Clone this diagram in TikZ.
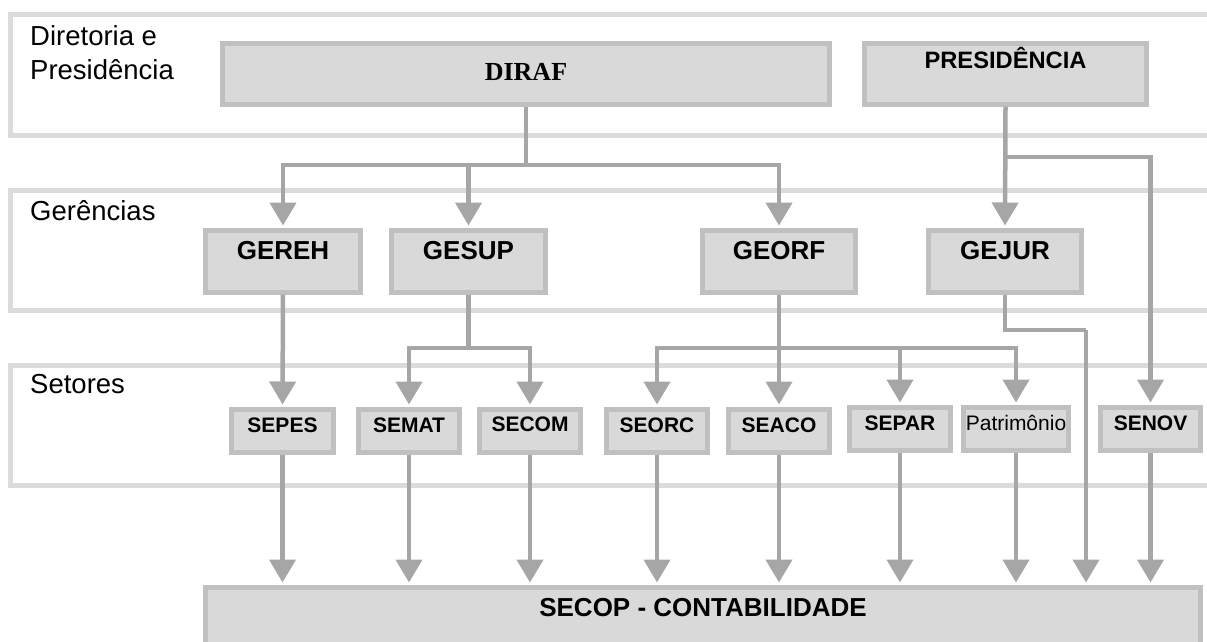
\documentclass[tikz,border=0pt]{standalone}
\usepackage{fontspec}
\setmainfont{Liberation Sans}
\newfontfamily\timesfont{Liberation Serif}
\usetikzlibrary{arrows.meta}
\definecolor{boxfill}{HTML}{D9D9D9}
\definecolor{boxline}{HTML}{C0C0C0}
\definecolor{linkgray}{HTML}{A6A6A6}
\definecolor{bandgray}{HTML}{DBDBDB}
\tikzset{
  orgbox/.style={draw=boxline, fill=boxfill, line width=5pt, inner xsep=0pt,
    inner ysep=0pt, anchor=north, font=\bfseries},
  band/.style={draw=bandgray, line width=5pt},
  link/.style={draw=linkgray, line width=4.5pt},
  arr/.style={link, -{Triangle[width=26pt,length=23pt]}, shorten >=2pt},
  levellabel/.style={anchor=base west, inner sep=0pt, align=left,
    font=\fontsize{27.5}{34}\selectfont},
  big/.style={font=\bfseries\fontsize{26}{26}\selectfont},
  small/.style={font=\bfseries\fontsize{21}{21}\selectfont},
}
\begin{document}
\begin{tikzpicture}[x=1pt,y=-1pt]
\useasboundingbox (0,0) rectangle (1207,641);
\clip (0,0) rectangle (1207,641);

% level bands (open to the right)
\draw[band] (1230,14.5) -- (10.5,14.5) -- (10.5,135.5) -- (1230,135.5);
\draw[band] (1230,190.5) -- (10.5,190.5) -- (10.5,310.5) -- (1230,310.5);
\draw[band] (1230,365.5) -- (10.5,365.5) -- (10.5,485.5) -- (1230,485.5);

% the base of a two-line label is its last line
\node[levellabel] (lvl1) at (30,79) {Diretoria e\\Presidência};
\node[levellabel] (lvl2) at (30,220) {Gerências};
\node[levellabel] (lvl3) at (30,393) {Setores};

% top level
\node[orgbox, minimum width=607, text height=37.5, text depth=23.5,
  font=\timesfont\bfseries\fontsize{26}{26}\selectfont] (diraf) at (526,40.5) {DIRAF};
\node[orgbox, minimum width=282, text height=25.5, text depth=35.5,
  font=\bfseries\fontsize{23.7}{24}\selectfont] (pres) at (1005.5,40.5) {PRESIDÊNCIA};

% managements
\begin{scope}[every node/.append style={orgbox, big, text height=29.5, text depth=32.5}]
\node[minimum width=155] (gereh) at (283,227.5) {GEREH};
\node[minimum width=154] (gesup) at (468.5,227.5) {GESUP};
\node[minimum width=153] (georf) at (779,227.5) {GEORF};
\node[minimum width=153] (gejur) at (1005,227.5) {GEJUR};
\end{scope}

% sectors
\begin{scope}[every node/.append style={orgbox, small, text height=23.5, text depth=19.5}]
\node[minimum width=102] (sepes) at (282.5,406.5) {SEPES};
\node[minimum width=101] (semat) at (409,406.5) {SEMAT};
\node[minimum width=101, text height=22.5, text depth=20.5] (secom) at (530,406.5) {SECOM};
\node[minimum width=101] (seorc) at (657,406.5) {SEORC};
\node[minimum width=101] (seaco) at (779,406.5) {SEACO};
\node[minimum width=101] (separ) at (900,404.5) {SEPAR};
\node[minimum width=105, font=\fontsize{21}{21}\selectfont] (patri) at (1016,404.5) {Patrimônio};
\node[minimum width=100] (senov) at (1150.5,404.5) {SENOV};
\end{scope}

\node[orgbox, big, minimum width=995, text height=29.5, text depth=80] (secop) at (703,584.5) {SECOP - CONTABILIDADE};

% junction points
\coordinate (jd) at (526,165);
\coordinate (jp) at (1005.5,157);
\coordinate (js) at (468.5,348);
\coordinate (jo) at (779,348);
\coordinate (jj) at (1005,330);
\coordinate (jr) at (1086,330);

% DIRAF -> managements
\draw[link] (diraf.south) -- (jd);
\draw[arr] (jd) -| (gereh.north);
\draw[arr] (jd) -| (gesup.north);
\draw[arr] (jd) -| (georf.north);

% PRESIDENCIA -> GEJUR, SENOV
\draw[arr] (pres.south) -- (gejur.north);
\draw[arr] (jp) -| (senov.north);

% managements -> sectors
\draw[arr] (gereh.south) -- (sepes.north);
\draw[link] (gesup.south) -- (js);
\draw[arr] (js) -| (semat.north);
\draw[arr] (js) -| (secom.north);
\draw[link] (georf.south) -- (jo);
\draw[arr] (jo) -| (seorc.north);
\draw[arr] (jo) -- (seaco.north);
\draw[arr] (jo) -| (separ.north);
\draw[arr] (jo) -| (patri.north);
\draw[link] (gejur.south) -- (jj) -- (jr);
\draw[arr] (jr) -- (jr |- secop.north);

% sectors -> SECOP
\foreach \s in {sepes,semat,secom,seorc,seaco,separ,patri,senov}
  \draw[arr] (\s.south) -- (\s.south |- secop.north);
\end{tikzpicture}
\end{document}
